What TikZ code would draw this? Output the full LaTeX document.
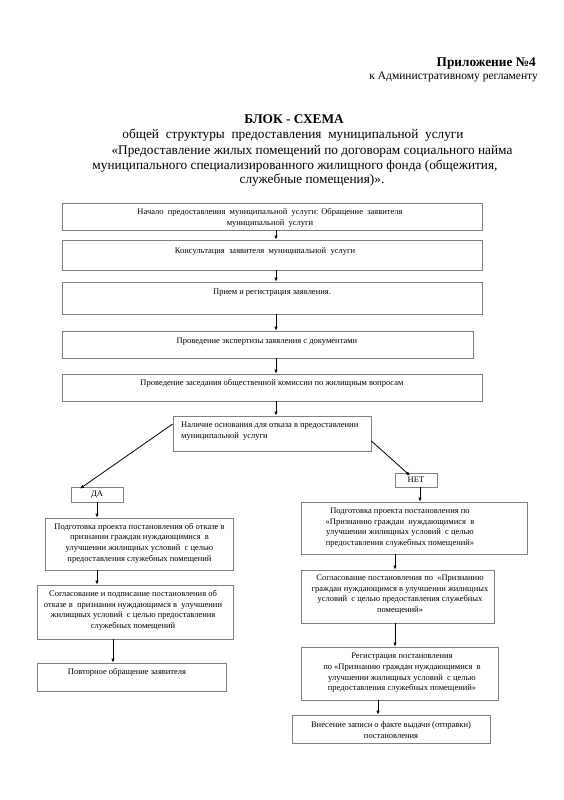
\documentclass[tikz,border=0pt]{standalone}
\usepackage{fontspec}
\setmainfont{Liberation Serif}
\usetikzlibrary{arrows.meta,calc}
\begin{document}
\begin{tikzpicture}[x=1pt,y=-1pt,
  box/.style={draw=black!50,line width=0.8pt,inner sep=0pt,anchor=center},
  txt/.style={inner sep=0pt,align=center,font=\fontsize{8.5}{10.6}\selectfont},
  arr/.style={draw=black,line width=0.8pt,-{Latex[length=4pt,width=3.5pt]}},
  hd/.style={inner sep=0pt,font=\fontsize{13.3}{15}\selectfont}]
\useasboundingbox (0,0) rectangle (564,800);
% header
\node[hd,anchor=east,font=\fontsize{13.3}{15}\selectfont\bfseries] (h1) at (536,64) {Приложение №4};
\node[hd,anchor=east,font=\fontsize{11.5}{13}\selectfont] (h2) at (538,77) {к Административному регламенту};
\node[hd,font=\fontsize{13.3}{15}\selectfont\bfseries] (h3) at (294,119) {БЛОК - СХЕМА};
\node[hd] (h4) at (293,135) {общей\ \ структуры\ \ предоставления\ \ муниципальной\ \ услуги};
\node[hd] (h5) at (312,151) {«Предоставление жилых помещений по договорам социального найма};
\node[hd] (h6) at (295,166) {муниципального специализированного жилищного фонда (общежития,};
\node[hd] (h7) at (312,180) {служебные помещения)».};
% boxes
\node[box,minimum width=420,minimum height=27] (b1) at (272,216.5) {};
\node[box,minimum width=420,minimum height=30] (b2) at (272,255) {};
\node[box,minimum width=420,minimum height=32] (b3) at (272,298) {};
\node[box,minimum width=411,minimum height=27] (b4) at (267.5,344.5) {};
\node[box,minimum width=420,minimum height=27] (b5) at (272,387.5) {};
\node[box,minimum width=198,minimum height=35] (dec) at (272,433.5) {};
\node[box,minimum width=52,minimum height=15] (da) at (97,494.5) {};
\node[box,minimum width=42,minimum height=14] (net) at (416,480) {};
\node[box,minimum width=188,minimum height=52] (l1) at (139,544) {};
\node[box,minimum width=196,minimum height=54] (l2) at (135,612) {};
\node[box,minimum width=189,minimum height=28] (l3) at (131.5,677) {};
\node[box,minimum width=226,minimum height=52] (r1) at (414,528) {};
\node[box,minimum width=193,minimum height=53] (r2) at (397.5,596.5) {};
\node[box,minimum width=197,minimum height=53] (r3) at (399.5,673.5) {};
\node[box,minimum width=198,minimum height=28] (r4) at (391,729) {};
% texts
\node[txt] (t1) at (270,218) {Начало\ \ предоставления\ \ муниципальной\ \ услуги: Обращение\ \ заявителя\\муниципальной\ \ услуги};
\node[txt] (t2) at (265,252) {Консультация\ \ заявителя\ \ муниципальной\ \ услуги};
\node[txt] (t3) at (272,293) {Прием и регистрация заявления.};
\node[txt] (t4) at (267,342) {Проведение экспертизы заявления с документами};
\node[txt] (t5) at (272,383) {Проведение заседания общественной комиссии по жилищным вопросам};
\node[txt,align=left,anchor=west] (tdec) at (181,431) {Наличие основания для отказа в предоставлении\\муниципальной\ \ услуги};
\node[txt] (tda) at (da) {ДА};
\node[txt] (tnet) at (net) {НЕТ};
\node[txt] (tl1) at (139.5,543) {Подготовка проекта постановления об отказе в\\признании граждан нуждающимися\ \ в\\улучшении жилищных условий\ \ с целью\\предоставления служебных помещений};
\node[txt] (tl2) at (133,610.5) {Согласование и подписание постановления об\\отказе в\ \ признании нуждающимся в\ \ улучшении\\жилищных условий\ \ с целью предоставления\\служебных помещений};
\node[txt] (tl3) at (127,672) {Повторное обращение заявителя};
\node[txt] (tr1) at (400,527.5) {Подготовка проекта постановления по\\«Признанию граждан\ \ нуждающимися\ \ в\\улучшении жилищных условий\ \ с целью\\предоставления служебных помещений»};
\node[txt] (tr2) at (400,594.5) {Согласование постановления по\ \ «Признанию\\граждан нуждающимся в улучшении жилищных\\условий\ \ с целью предоставления служебных\\помещений»};
\node[txt] (tr3) at (402,673) {Регистрация постановления\\по «Признанию граждан нуждающимися\ \ в\\улучшении жилищных условий\ \ с целью\\предоставления служебных помещений»};
\node[txt] (tr4) at (391,730) {Внесение записи о факте выдачи (отправки)\\постановления};
% connectors
\draw[arr] ([xshift=4]b1.south) -- ([xshift=4]b2.north);
\draw[arr] ([xshift=4]b2.south) -- ([xshift=4]b3.north);
\draw[arr] ([xshift=4]b3.south) -- ([xshift=8.5]b4.north);
\draw[arr] ([xshift=8.5]b4.south) -- ([xshift=4]b5.north);
\draw[arr] ([xshift=4]b5.south) -- ([xshift=4]dec.north);
\draw[arr] ([yshift=9.5]dec.west) -- ([xshift=-17,yshift=-2]da.north);
\draw[arr] ([yshift=-7.5]dec.east) -- ([xshift=-6,yshift=-3]net.north);
\draw[arr] (da.south) -- ([xshift=-42]l1.north);
\draw[arr] ([xshift=-42]l1.south) -- ([xshift=-38]l2.north);
\draw[arr] ([xshift=-22]l2.south) -- ([xshift=-18.5]l3.north);
\draw[arr] ([xshift=4]net.south) -- ([xshift=6]r1.north);
\draw[arr] ([xshift=-19]r1.south) -- ([xshift=-2.5]r2.north);
\draw[arr] ([xshift=-2.5]r2.south) -- ([xshift=-4.5]r3.north);
\draw[arr] ([xshift=-21.5]r3.south) -- ([xshift=-13]r4.north);
\end{tikzpicture}
\end{document}
